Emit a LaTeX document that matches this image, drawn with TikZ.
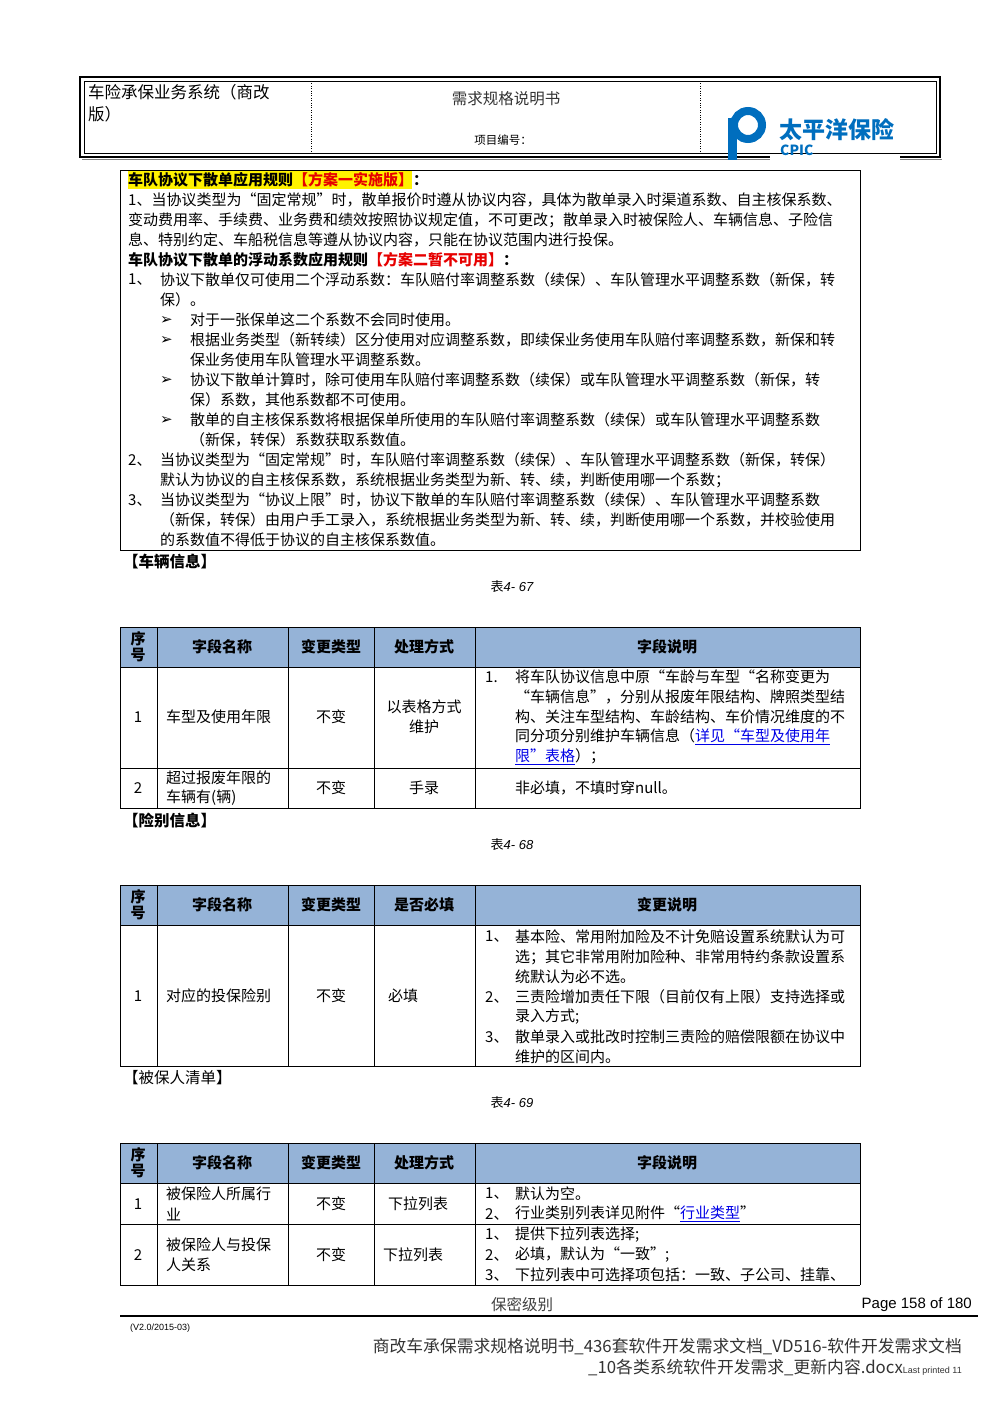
\documentclass[tikz,border=0pt]{standalone}
\usepackage{fontspec}
\setmainfont{Noto Sans CJK SC}
\newfontfamily\djv{DejaVu Sans}
\newfontfamily\lib{Liberation Sans}
\definecolor{hdr}{RGB}{149,179,215}
\definecolor{lnk}{RGB}{0,0,230}
\definecolor{rd}{RGB}{230,0,0}
\definecolor{logo}{RGB}{0,110,190}
\newcounter{nn}
\newcommand{\T}[3]{\stepcounter{nn}\node[txt] (t\arabic{nn}) at (#1,#2) {#3};}
\newcommand{\C}[3]{\stepcounter{nn}\node[ctxt] (t\arabic{nn}) at (#1,#2) {#3};}
\newcommand{\lk}[1]{\textcolor{lnk}{\underline{#1}}}
\begin{document}
\begin{tikzpicture}[x=1pt,y=-1pt,
 txt/.style={anchor=west,inner sep=0pt,font=\fontsize{15}{17}\selectfont},
 ctxt/.style={anchor=center,inner sep=0pt,align=center,font=\fontsize{15}{20}\selectfont},
 grid/.style={draw=black,line width=0.8pt}]
\useasboundingbox (0,0) rectangle (1000,1415);
% header
\draw[line width=1.6pt] (80,77) rectangle (940,157);
\draw[line width=0.6pt] (84,81) rectangle (936,153);
\draw[line width=0.6pt,gray] (82,159) -- (942,159);
\draw[dotted] (311,81) -- (311,153);
\draw[dotted] (700,81) -- (700,153);
\T{88}{92}{\fontsize{16.5}{18}\selectfont 车险承保业务系统（商改}
\T{88}{114}{\fontsize{16.5}{18}\selectfont 版）}
\C{506}{99}{\fontsize{15.5}{18}\selectfont\color{black!80}需求规格说明书}
\C{503}{140}{\fontsize{11.5}{13}\selectfont 项目编号：}
% logo
\fill[logo] (728,118) rectangle (737,160);
\draw[logo,line width=8pt] (748,125) circle (14);
\fill[white] (744,121) rectangle (752,129);
\node[inner sep=0,anchor=west,text=logo,font=\fontsize{23}{24}\selectfont\bfseries] (logo1) at (779,130) {太平洋保险};
\node[inner sep=0,anchor=north west,text=logo,font=\fontsize{14}{14}\selectfont\bfseries] (logo2) at (780,145) {CPIC};
\fill[white] (770,156) rectangle (900,170);
% box 1
\draw[line width=0.8pt] (120,170) rectangle (860,550);
\fill[yellow] (128,171) rectangle (412,189);
\T{128}{180}{\bfseries 车队协议下散单应用规则\textcolor{rd}{【方案一实施版】}：}
\T{128}{200}{1、当协议类型为“固定常规”时，散单报价时遵从协议内容，具体为散单录入时渠道系数、自主核保系数、}
\T{128}{220}{变动费用率、手续费、业务费和绩效按照协议规定值，不可更改；散单录入时被保险人、车辆信息、子险信}
\T{128}{240}{息、特别约定、车船税信息等遵从协议内容，只能在协议范围内进行投保。}
\T{128}{260}{\bfseries 车队协议下散单的浮动系数应用规则\textcolor{rd}{【方案二暂不可用】}：}
\T{128}{280}{1、}
\T{160}{280}{协议下散单仅可使用二个浮动系数：车队赔付率调整系数（续保）、车队管理水平调整系数（新保，转}
\T{160}{300}{保）。}
\T{160}{320}{\djv ➢}\T{190}{320}{对于一张保单这二个系数不会同时使用。}
\T{160}{340}{\djv ➢}\T{190}{340}{根据业务类型（新转续）区分使用对应调整系数，即续保业务使用车队赔付率调整系数，新保和转}
\T{190}{360}{保业务使用车队管理水平调整系数。}
\T{160}{380}{\djv ➢}\T{190}{380}{协议下散单计算时，除可使用车队赔付率调整系数（续保）或车队管理水平调整系数（新保，转}
\T{190}{400}{保）系数，其他系数都不可使用。}
\T{160}{420}{\djv ➢}\T{190}{420}{散单的自主核保系数将根据保单所使用的车队赔付率调整系数（续保）或车队管理水平调整系数}
\T{190}{440}{（新保，转保）系数获取系数值。}
\T{128}{460}{2、}\T{160}{460}{当协议类型为“固定常规”时，车队赔付率调整系数（续保）、车队管理水平调整系数（新保，转保）}
\T{160}{480}{默认为协议的自主核保系数，系统根据业务类型为新、转、续，判断使用哪一个系数；}
\T{128}{500}{3、}\T{160}{500}{当协议类型为“协议上限”时，协议下散单的车队赔付率调整系数（续保）、车队管理水平调整系数}
\T{160}{520}{（新保，转保）由用户手工录入，系统根据业务类型为新、转、续，判断使用哪一个系数，并校验使用}
\T{160}{540}{的系数值不得低于协议的自主核保系数值。}
% section 1
\T{123}{562}{\fontsize{15.5}{17}\selectfont\bfseries 【车辆信息】}
\C{512}{587}{\itshape\fontsize{13}{15}\selectfont 表\lib\itshape 4- 67}
\fill[hdr] (120,627) rectangle (860,667);
\draw[grid] (120,627) rectangle (860,808);
\draw[grid] (120,667) -- (860,667) (120,768) -- (860,768);
\foreach \x in {157,288,374,475} \draw[grid] (\x,627) -- (\x,808);
\C{138}{647}{\bfseries 序\\[-4pt]\bfseries 号}
\C{222}{647}{\bfseries 字段名称}\C{331}{647}{\bfseries 变更类型}\C{424}{647}{\bfseries 处理方式}\C{667}{647}{\bfseries 字段说明}
\C{138}{717}{1}\T{166}{717}{车型及使用年限}\C{331}{717}{不变}\C{424}{717}{以表格方式\\维护}
\T{485}{677}{1.}
\T{515}{677}{将车队协议信息中原“车龄与车型“名称变更为}
\T{515}{697}{“车辆信息”，分别从报废年限结构、牌照类型结}
\T{515}{717}{构、关注车型结构、车龄结构、车价情况维度的不}
\T{515}{737}{同分项分别维护车辆信息（\lk{详见“车型及使用年}}
\T{515}{757}{\lk{限”表格}）；}
\C{138}{788}{2}\T{166}{778}{超过报废年限的}\T{166}{798}{车辆有(辆)}\C{331}{788}{不变}\C{424}{788}{手录}
\T{515}{788}{非必填，不填时穿null。}
% section 2
\T{123}{821}{\fontsize{15.5}{17}\selectfont\bfseries 【险别信息】}
\C{512}{845}{\itshape\fontsize{13}{15}\selectfont 表\lib\itshape 4- 68}
\fill[hdr] (120,885) rectangle (860,925);
\draw[grid] (120,885) rectangle (860,1066);
\draw[grid] (120,925) -- (860,925);
\foreach \x in {157,288,374,475} \draw[grid] (\x,885) -- (\x,1066);
\C{138}{905}{\bfseries 序\\[-4pt]\bfseries 号}
\C{222}{905}{\bfseries 字段名称}\C{331}{905}{\bfseries 变更类型}\C{424}{905}{\bfseries 是否必填}\C{667}{905}{\bfseries 变更说明}
\C{138}{996}{1}\T{166}{996}{对应的投保险别}\C{331}{996}{不变}\T{388}{996}{必填}
\T{485}{937}{1、}\T{515}{937}{基本险、常用附加险及不计免赔设置系统默认为可}
\T{515}{957}{选；其它非常用附加险种、非常用特约条款设置系}
\T{515}{977}{统默认为必不选。}
\T{485}{997}{2、}\T{515}{997}{三责险增加责任下限（目前仅有上限）支持选择或}
\T{515}{1017}{录入方式;}
\T{485}{1037}{3、}\T{515}{1037}{散单录入或批改时控制三责险的赔偿限额在协议中}
\T{515}{1057}{维护的区间内。}
% section 3
\T{123}{1078}{\fontsize{15.5}{17}\selectfont 【被保人清单】}
\C{512}{1103}{\itshape\fontsize{13}{15}\selectfont 表\lib\itshape 4- 69}
\fill[hdr] (120,1143) rectangle (860,1183);
\draw[grid] (120,1143) -- (860,1143) (120,1183) -- (860,1183) (120,1224) -- (860,1224) (120,1285) -- (860,1285);
\foreach \x in {120,157,288,374,475,860} \draw[grid] (\x,1143) -- (\x,1285);
\C{138}{1163}{\bfseries 序\\[-4pt]\bfseries 号}
\C{222}{1163}{\bfseries 字段名称}\C{331}{1163}{\bfseries 变更类型}\C{424}{1163}{\bfseries 处理方式}\C{667}{1163}{\bfseries 字段说明}
\C{138}{1204}{1}\T{166}{1194}{被保险人所属行}\T{166}{1214}{业}\C{331}{1204}{不变}\T{388}{1204}{下拉列表}
\T{485}{1194}{1、}\T{515}{1194}{默认为空。}
\T{485}{1214}{2、}\T{515}{1214}{行业类别列表详见附件“\lk{行业类型}”}
\C{138}{1255}{2}\T{166}{1245}{被保险人与投保}\T{166}{1265}{人关系}\C{331}{1255}{不变}\T{383}{1255}{下拉列表}
\T{485}{1235}{1、}\T{515}{1235}{提供下拉列表选择;}
\T{485}{1255}{2、}\T{515}{1255}{必填，默认为“一致”;}
\T{485}{1275}{3、}\T{515}{1275}{下拉列表中可选择项包括：一致、子公司、挂靠、}
% footer
\C{522}{1305}{\fontsize{15.5}{17}\selectfont\color{black!75}保密级别}
\stepcounter{nn}\node[inner sep=0,anchor=east,font=\lib\fontsize{15}{17}\selectfont] (pg) at (972,1305) {Page 158 of 180};
\draw[line width=1.2pt] (120,1316) -- (978,1316);
\stepcounter{nn}\node[inner sep=0,anchor=west,font=\lib\fontsize{9}{10}\selectfont] (ver) at (130,1328) {(V2.0/2015-03)};
\stepcounter{nn}\node[inner sep=0,anchor=east,font=\fontsize{16.8}{18}\selectfont,text=black!80] (f1) at (962,1347) {商改车承保需求规格说明书\_436套软件开发需求文档\_VD516-软件开发需求文档};
\stepcounter{nn}\node[inner sep=0,anchor=east,font=\fontsize{16.8}{18}\selectfont,text=black!80] (f2) at (962,1368) {\_10各类系统软件开发需求\_更新内容.docx{\lib\fontsize{9}{10}\selectfont Last printed 11}};
\end{tikzpicture}
\end{document}
